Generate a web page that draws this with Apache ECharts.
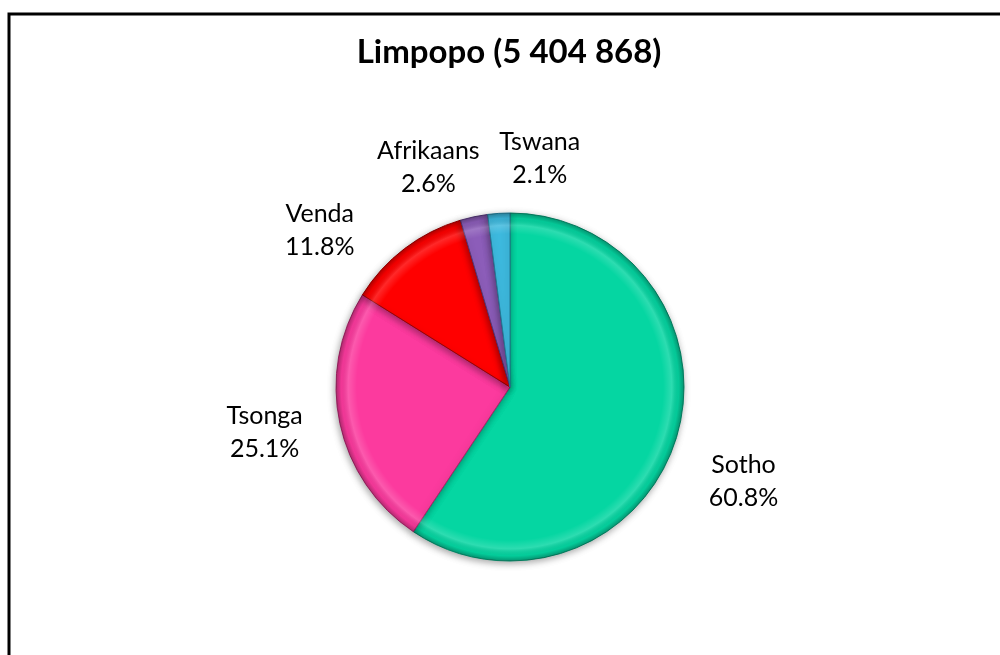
<!DOCTYPE html>
<html>
<head>
<meta charset="utf-8">
<title>Limpopo</title>
<script src="https://cdn.jsdelivr.net/npm/echarts@6/dist/echarts.min.js"></script>
<style>
  html, body { margin: 0; padding: 0; background: #ffffff; }
  #chart { width: 1000px; height: 655px; }
</style>
</head>
<body>
<div id="chart"></div>
<script>
// Home languages of Limpopo, share of population (%)
const titleText = 'Limpopo (5 404 868)';
const languages = ['Sotho', 'Tsonga', 'Venda', 'Afrikaans', 'Tswana'];
const shares = [60.8, 25.1, 11.8, 2.6, 2.1];
const sliceColors = ['#05D6A2', '#FC3A9E', '#FF0000', '#8C5DB9', '#3DB9DE'];
const sliceEdges = ['#0A8C6C', '#A8276A', '#A00000', '#55387A', '#227A95'];
// offsets applied to each label's centre after the pie lays it out
const labelNudge = [[-11, 32], [7, 0], [-21, 14], [19, -10], [89, -15]];

const chart = echarts.init(document.getElementById('chart'));

const pieCenter = [510, 387];
const pieRadius = 174;

chart.setOption({
  backgroundColor: '#ffffff',
  title: {
    text: titleText,
    left: 504,
    top: 31,
    textAlign: 'center',
    textStyle: {
      fontFamily: 'Lato',
      fontWeight: 'bold',
      fontSize: 33,
      color: '#000000'
    }
  },
  graphic: [{
    type: 'rect',
    shape: { x: 9, y: 14, width: 1100, height: 800 },
    style: { fill: 'none', stroke: '#000000', lineWidth: 3 },
    silent: true
  }],
  series: [{
    type: 'pie',
    center: pieCenter,
    radius: pieRadius,
    startAngle: 90,
    clockwise: true,
    avoidLabelOverlap: false,
    label: {
      show: true,
      position: 'outside',
      formatter: p => p.name + '\n' + p.value.toFixed(1) + '%',
      fontFamily: 'Lato',
      fontSize: 25,
      lineHeight: 33,
      color: '#000000'
    },
    labelLine: { show: false, length: 40, length2: 0 },
    labelLayout: p => {
      const r = p.labelRect;
      const n = labelNudge[p.dataIndex];
      return {
        x: r.x + r.width / 2 + n[0],
        y: r.y + r.height / 2 + n[1],
        align: 'center',
        verticalAlign: 'middle'
      };
    },
    emphasis: { disabled: true },
    data: languages.map((name, i) => ({
      name,
      value: shares[i],
      itemStyle: {
        color: sliceColors[i],
        borderColor: sliceEdges[i],
        borderWidth: 1,
        shadowColor: 'rgba(0,0,0,0.35)',
        shadowBlur: 7,
        shadowOffsetX: -1,
        shadowOffsetY: 2
      }
    }))
  }, {
    // soft bevel along the rim of the pie
    type: 'pie',
    center: pieCenter,
    radius: pieRadius,
    silent: true,
    label: { show: false },
    labelLine: { show: false },
    emphasis: { disabled: true },
    data: [{
      value: 1,
      itemStyle: {
        borderWidth: 0,
        color: new echarts.graphic.RadialGradient(0.5, 0.5, 0.5, [
          { offset: 0, color: 'rgba(255,255,255,0)' },
          { offset: 0.88, color: 'rgba(255,255,255,0)' },
          { offset: 0.93, color: 'rgba(255,255,255,0.16)' },
          { offset: 0.97, color: 'rgba(0,0,0,0.04)' },
          { offset: 1, color: 'rgba(0,0,0,0.28)' }
        ])
      }
    }]
  }]
});
</script>
</body>
</html>
